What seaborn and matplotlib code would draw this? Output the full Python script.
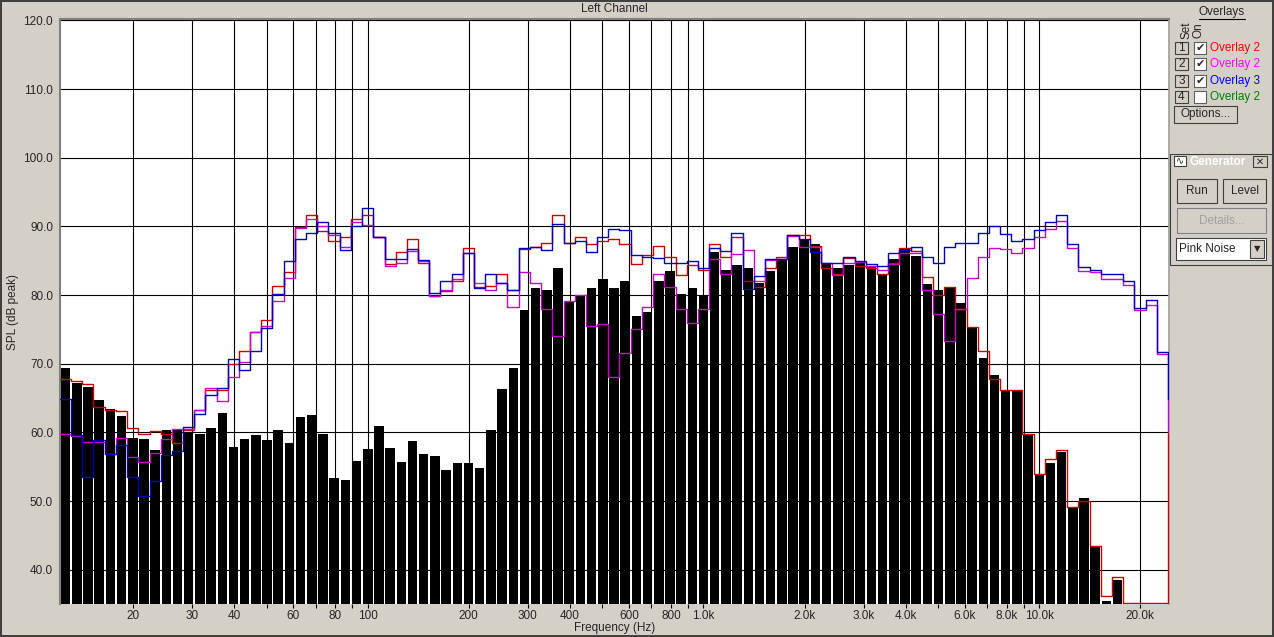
import numpy as np
import seaborn as sns
import matplotlib.pyplot as plt
from matplotlib.patches import Rectangle
from matplotlib.lines import Line2D

# analyser band centres, 1/30 decade, in Hz
band_hz = [12.6, 13.6, 14.7, 15.8, 17.1, 18.5, 20.0, 21.5, 23.3, 25.1, 27.1, 29.3,
           31.6, 34.1, 36.9, 39.8, 43.0, 46.4, 50.1, 54.1, 58.4, 63.1, 68.1, 73.6,
           79.4, 85.8, 92.6,
           100, 108, 117, 126, 136, 147, 158, 171, 185, 200, 215, 233, 251, 271,
           293, 316, 341, 369, 398, 430, 464, 501, 541, 584, 631, 681, 736, 794,
           858, 926,
           1000, 1080, 1166, 1259, 1359, 1468, 1585, 1711, 1848, 1995, 2154, 2326,
           2512, 2712, 2929, 3162, 3415, 3687, 3981, 4299, 4642, 5012, 5412, 5843,
           6310, 6813, 7356, 7943, 8577, 9261,
           10000, 10798, 11659, 12589, 13594, 14678, 15849, 17113, 18478, 19953,
           21544, 23263]

# measured level (black bars), first 95 bands
bar_db = [69.4, 67.2, 66.6, 64.7, 63.4, 62.4, 59.2, 59.0, 57.4, 60.3, 60.5, 60.0,
          59.8, 60.6, 62.8, 57.9, 59.0, 59.6, 58.9, 60.3, 58.4, 62.2, 62.5, 59.8,
          53.3, 53.0, 55.8, 57.6, 60.9, 57.7, 55.7, 58.7, 56.8, 56.5, 54.5, 55.5,
          55.5, 54.8, 60.4, 66.3, 69.3, 77.8, 81.0, 80.8, 84.0, 79.0, 80.0, 81.0,
          82.3, 81.0, 82.0, 76.9, 77.5, 82.1, 83.5, 80.1, 81.0, 79.8, 86.2, 83.7,
          84.3, 83.9, 81.7, 83.5, 85.1, 87.0, 88.1, 87.4, 84.6, 84.0, 84.3, 84.9,
          84.2, 82.9, 85.2, 86.7, 85.7, 81.6, 80.7, 81.1, 78.9, 75.3, 70.8, 68.3,
          66.0, 66.0, 59.7, 54.0, 55.6, 57.1, 49.1, 50.5, 43.4, 35.5, 38.5]

# overlays, one value per band
red_db = [67.8, 67.5, 67.1, 63.7, 63.2, 63.1, 60.7, 59.8, 60.2, 59.8, 58.4, 60.4,
          63.3, 66.1, 66.2, 69.9, 71.8, 74.6, 76.4, 81.3, 83.3, 89.9, 91.6, 89.3,
          87.8, 88.5, 91.0, 91.7, 88.5, 84.5, 86.2, 88.1, 84.7, 79.8, 80.6, 82.0,
          86.9, 81.2, 81.3, 83.1, 80.7, 86.7, 87.0, 87.6, 91.7, 87.6, 88.5, 87.5,
          87.8, 88.1, 87.4, 84.5, 85.9, 87.2, 85.5, 82.9, 84.3, 83.6, 87.5, 85.6,
          88.5, 82.1, 81.2, 84.0, 85.5, 88.8, 88.7, 87.2, 84.0, 83.0, 85.4, 84.2,
          84.0, 83.0, 84.7, 86.9, 86.4, 82.6, 80.0, 81.2, 78.0, 75.4, 71.8, 67.7,
          66.2, 66.1, 59.7, 54.0, 56.1, 57.5, 49.2, 50.0, 43.4, 36.2, 38.9, 35.1,
          35.1, 35.1, 35.1]
magenta_db = [59.8, 59.5, 58.6, 58.6, 56.9, 59.2, 56.4, 55.7, 57.0, 59.0, 60.5, 60.5,
              63.3, 66.5, 64.6, 68.0, 70.3, 74.6, 75.5, 79.1, 82.5, 89.8, 91.0, 90.0,
              88.8, 87.0, 90.7, 90.2, 88.5, 84.2, 84.7, 86.4, 85.0, 79.8, 80.7, 82.4,
              86.1, 81.7, 80.8, 81.7, 78.3, 83.3, 81.7, 77.9, 74.1, 79.1, 80.0, 75.5,
              75.8, 68.1, 71.6, 75.0, 78.3, 83.1, 81.1, 78.0, 75.9, 77.9, 85.3, 83.1,
              86.0, 86.6, 82.1, 85.1, 85.2, 88.6, 87.0, 87.0, 84.7, 82.9, 84.7, 84.8,
              84.2, 83.7, 84.5, 86.1, 86.1, 80.8, 77.2, 73.3, 78.0, 82.5, 85.5, 86.9,
              86.7, 86.1, 86.9, 88.4, 89.6, 90.8, 86.8, 83.5, 83.3, 82.3, 82.4, 81.5,
              77.8, 78.6, 71.4]
blue_db = [64.8, 59.6, 53.5, 58.9, 56.8, 58.1, 53.5, 50.8, 52.9, 56.7, 57.3, 60.8,
           62.6, 65.4, 66.4, 70.7, 69.1, 71.8, 75.2, 80.2, 84.9, 88.2, 89.0, 90.7,
           89.1, 86.5, 90.0, 92.7, 88.5, 85.3, 85.2, 86.7, 85.1, 80.3, 82.0, 83.1,
           86.1, 81.0, 83.0, 81.8, 80.8, 86.9, 87.0, 86.5, 90.3, 87.6, 87.8, 86.3,
           88.4, 89.6, 89.5, 85.9, 85.6, 85.4, 84.6, 84.7, 85.0, 83.9, 86.8, 86.4,
           89.0, 80.9, 82.8, 85.3, 85.2, 88.8, 88.1, 86.3, 84.7, 84.7, 85.5, 84.9,
           84.5, 84.2, 86.1, 86.6, 87.0, 85.5, 84.7, 87.0, 87.6, 87.6, 89.0, 90.0,
           88.9, 87.8, 88.2, 89.5, 90.6, 91.6, 87.4, 84.1, 83.7, 83.1, 83.0, 82.0,
           78.1, 79.3, 71.7]
# level each overlay jumps to at the right edge of the plot
red_end, magenta_end, blue_end = 60.0, 60.0, 64.9

grid_hz = [20, 30, 40, 50, 60, 70, 80, 90,
           100, 200, 300, 400, 500, 600, 700, 800, 900,
           1000, 2000, 3000, 4000, 5000, 6000, 7000, 8000, 9000,
           10000, 20000]
label_hz = {20: '20', 30: '30', 40: '40', 60: '60', 80: '80', 100: '100',
            200: '200', 300: '300', 400: '400', 600: '600', 800: '800',
            1000: '1.0k', 2000: '2.0k', 3000: '3.0k', 4000: '4.0k', 6000: '6.0k',
            8000: '8.0k', 10000: '10.0k', 20000: '20.0k'}
y_ticks = [40, 50, 60, 70, 80, 90, 100, 110, 120]

BG = '#d4d0c8'
FS = 8.5
W, H = 1274, 637

sns.set_theme(style='white')
plt.rcParams['font.family'] = ['Liberation Sans', 'DejaVu Sans']

fig = plt.figure(figsize=(W / 100, H / 100), dpi=100, facecolor=BG)
fig.patch.set_edgecolor('#404040')
fig.patch.set_linewidth(1.5)
ax = fig.add_axes([60 / W, 33 / H, 1109 / W, 585 / H])
ax.set_facecolor('white')

# work on a log10(Hz) axis so the 1/30 decade bins are evenly spaced
log_c = np.log10(band_hz)
half = 1 / 60
lo, hi = log_c[0] - half, log_c[-1] + half
nb = len(bar_db)

sns.histplot(x=log_c[:nb], weights=bar_db, bins=nb,
             binrange=(lo, log_c[nb - 1] + half), shrink=0.85,
             color='black', alpha=1, edgecolor='none', linewidth=0, ax=ax, zorder=2)

edges = np.append(log_c - half, hi)
overlays = [(red_db, red_end, '#c80000'),
            (magenta_db, magenta_end, '#cc00cc'),
            (blue_db, blue_end, '#0000c0')]
for vals, end, col in overlays:
    sns.lineplot(x=edges, y=vals + [end], drawstyle='steps-post', color=col,
                 lw=1.0, estimator=None, sort=False, ax=ax, zorder=3)

ax.set_xlim(lo, hi + 0.003)
ax.set_ylim(35, 120.2)
ax.set_xticks(np.log10(grid_hz))
ax.set_xticklabels([label_hz.get(f, '') for f in grid_hz], fontsize=FS)
ax.set_yticks(y_ticks)
ax.set_yticklabels([f'{v:.1f}' for v in y_ticks], fontsize=FS)
ax.grid(True, color='black', lw=0.8)
ax.set_axisbelow(True)
ax.tick_params(axis='x', direction='out', length=3, width=0.8, color='black', pad=1,
               bottom=True)
ax.tick_params(axis='y', length=0, pad=5)
ax.set_xlabel('Frequency (Hz)', fontsize=FS, labelpad=0)
ax.set_ylabel('SPL (dB peak)', fontsize=FS)
ax.yaxis.set_label_coords(-0.037, 0.5)
for side in ['left', 'top']:
    ax.spines[side].set_color('#808080')
    ax.spines[side].set_linewidth(1.5)
ax.spines['bottom'].set_visible(False)
ax.spines['right'].set_color('#a0a0a0')

fig.text(614 / W, 1 - 9 / H, 'Left Channel', ha='center', va='center', fontsize=FS)


# ---- right hand control panel ----
def px(x, y):
    return x / W, 1 - y / H


def box(x0, y0, x1, y1, face=BG, edge='#404040', lw=0.8):
    fig.add_artist(Rectangle(px(x0, y1), (x1 - x0) / W, (y1 - y0) / H,
                             facecolor=face, edgecolor=edge, lw=lw,
                             transform=fig.transFigure))


def label(x, y, s, **kw):
    kw.setdefault('fontsize', FS)
    kw.setdefault('ha', 'center')
    kw.setdefault('va', 'center')
    fig.text(*px(x, y), s, **kw)


label(1222, 12, 'Overlays')
fig.add_artist(Line2D([1199 / W, 1245 / W], [1 - 19 / H] * 2, color='black', lw=0.8))
label(1186, 30, 'Set', rotation=90)
label(1199, 30, 'On', rotation=90)

rows = [('1', True, 'Overlay 2', '#ff0000'),
        ('2', True, 'Overlay 2', '#ff00ff'),
        ('3', True, 'Overlay 3', '#0000ff'),
        ('4', False, 'Overlay 2', '#008000')]
for i, (num, on, name, col) in enumerate(rows):
    yc = 48 + 16.3 * i
    box(1175, yc - 6, 1188, yc + 6)
    label(1181.5, yc, num)
    box(1194, yc - 6, 1206, yc + 6, face='white', edge='#606060')
    if on:
        label(1200, yc, '\u2714', fontsize=8, family=['DejaVu Sans'])
    label(1210, yc, name, ha='left', color=col)

box(1174, 106, 1237, 123)
label(1205.5, 114.5, 'Options...')

# generator window
box(1170, 154, 1272, 265, edge='#404040')
tb = fig.add_axes([1172 / W, 1 - 168 / H, 98 / W, 13 / H])
tb.imshow(np.linspace(0.45, 0.85, 64)[None, :], cmap='gray', aspect='auto',
          vmin=0, vmax=1, extent=(0, 1, 0, 1))
tb.set_axis_off()
box(1174, 156, 1186, 166, face='white', edge='#404040')
label(1180, 161, '\u223f', fontsize=7, family=['DejaVu Sans'])
label(1190, 161.5, 'Generator', ha='left', color='white', fontweight='bold')
box(1253, 156, 1267, 167)
label(1260, 161.5, '\u2715', fontsize=7, family=['DejaVu Sans'])

box(1177, 179, 1217, 203)
label(1197, 191, 'Run')
box(1223, 179, 1266, 203)
label(1244.5, 191, 'Level')
box(1177, 208, 1266, 233, edge='#808080')
label(1221.5, 221, 'Details...', color='#a0a0a0')
box(1176, 238, 1266, 260, face='white', edge='#404040')
label(1179, 249, 'Pink Noise', ha='left')
box(1250, 240, 1264, 258)
label(1257, 249, '\u25bc', fontsize=6, family=['DejaVu Sans'])

fig.savefig('out.png', dpi=100, facecolor=BG)
